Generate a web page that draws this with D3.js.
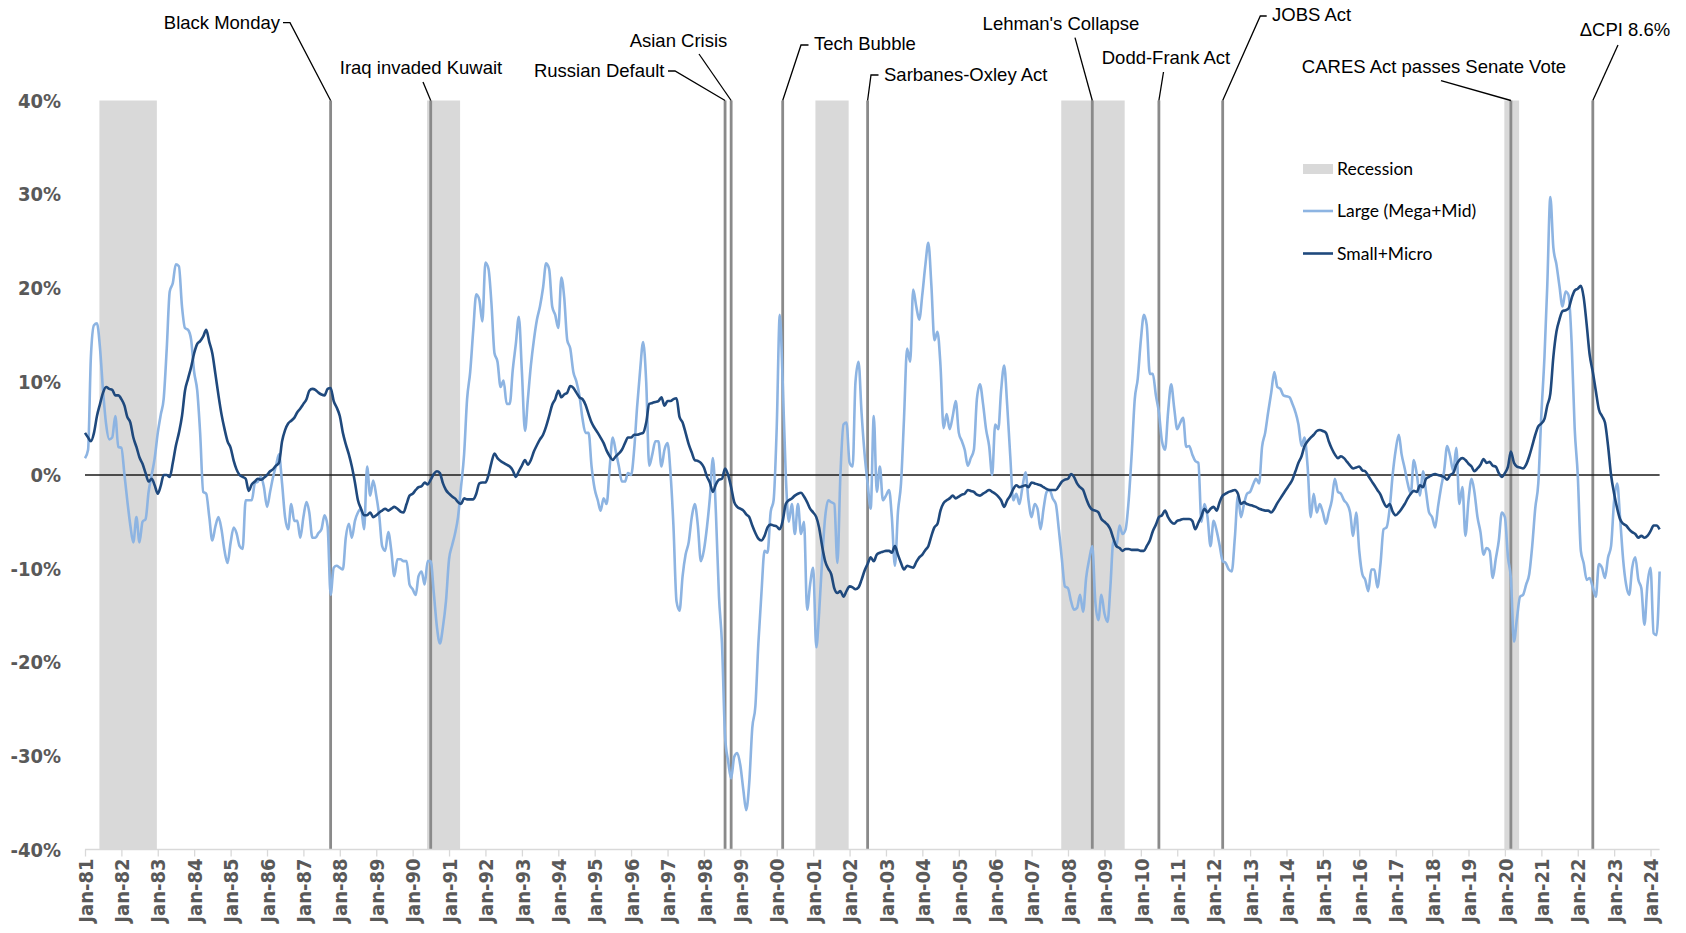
<!DOCTYPE html>
<html><head><meta charset="utf-8">
<script src="https://cdn.jsdelivr.net/npm/d3@7"></script>
<style>
html,body{margin:0;padding:0;background:#fff;}
svg{display:block;}
</style></head><body>
<svg id="chart" width="1686" height="933"></svg>
<script>
// ---------------- DATA ----------------
const startMonth = "1981-01";   // first monthly observation
const endMonth = "2024-04";     // end of x domain
const yTicks = [-40, -30, -20, -10, 0, 10, 20, 30, 40];
const tickYears = d3.range(1981, 2025);

// Large (Mega+Mid), monthly, one row per year
const largeValues = [
  1.8, 2.7, 12.6, 16.0, 16.2, 13.5, 9.0, 5.4, 3.8, 4.0, 6.3, 3.0,
  2.9, 0.0, -2.7, -5.4, -7.2, -4.5, -7.2, -5.0, -4.7, -1.8, 0.0, 1.8,
  4.5, 6.5, 8.1, 13.5, 19.6, 20.5, 22.5, 22.3, 18.0, 15.7, 15.5, 14.5,
  11.0, 9.0, 4.5, -1.8, -2.0, -4.5, -7.0, -5.5, -4.5, -5.8, -8.1, -9.4,
  -7.2, -5.6, -6.2, -7.6, -7.9, -2.7, -2.7, -2.7, -0.9, -0.7, -0.2, -1.3,
  -3.4, -1.8, -0.3, 1.0, 2.2, -0.9, -4.5, -5.8, -3.1, -4.9, -4.9, -6.7,
  -4.5, -2.9, -4.0, -6.7, -6.7, -6.2, -5.8, -4.3, -5.5, -12.8, -9.9, -9.7,
  -9.9, -10.1, -6.7, -5.2, -6.7, -4.9, -4.0, -3.6, -5.8, 0.9, -2.2, -0.6,
  -2.2, -4.5, -7.6, -8.1, -6.1, -8.1, -10.8, -9.0, -9.0, -9.2, -9.2, -11.7,
  -12.2, -12.8, -10.8, -10.3, -11.7, -9.2, -9.2, -12.6, -16.2, -18.0, -16.2, -13.5,
  -9.0, -7.5, -6.3, -4.5, -1.3, 2.2, 8.1, 11.0, 15.5, 19.3, 18.7, 16.4,
  22.7, 22.0, 18.4, 13.0, 12.1, 9.4, 10.1, 7.6, 7.6, 11.2, 14.0, 16.9,
  11.0, 4.7, 8.0, 11.7, 14.4, 16.6, 18.0, 20.0, 22.6, 22.0, 18.0, 17.1,
  15.7, 21.1, 19.0, 14.4, 13.5, 11.0, 10.0, 8.5, 6.0, 4.5, 4.5, 0.9,
  -1.5, -2.7, -3.8, -2.5, -3.1, 0.9, 4.0, 2.5, 0.9, -0.7, -0.7, 0.2,
  0.0, 2.7, 7.2, 11.2, 14.2, 9.9, 1.0, 2.2, 3.6, 3.6, 0.9, 2.7,
  3.4, 0.0, -5.4, -13.5, -14.5, -10.8, -8.5, -7.2, -4.5, -3.1, -5.4, -9.2,
  -8.0, -5.5, -2.5, 1.8, -4.0, -13.0, -18.0, -27.9, -30.6, -32.4, -30.1, -29.7,
  -31.0, -33.7, -35.8, -32.8, -27.0, -24.7, -18.0, -12.6, -8.1, -8.3, -4.0, -2.7,
  5.0, 17.1, 10.0, 0.0, -5.0, -3.1, -6.3, -3.1, -6.3, -5.0, -14.4, -11.7,
  -9.9, -18.4, -14.8, -9.0, -4.5, -2.7, -2.9, -3.1, -9.4, 0.0, 5.4, 5.6,
  1.3, 0.9, 9.9, 12.1, 6.7, 2.2, -0.9, -3.6, 6.3, -1.8, 0.9, -2.7,
  -2.2, -1.6, -4.5, -9.7, -4.0, -0.9, 6.0, 13.5, 12.1, 19.8, 18.0, 16.6,
  19.3, 22.5, 24.8, 20.2, 14.4, 15.3, 11.7, 5.0, 6.5, 4.9, 6.3, 7.9,
  4.5, 3.6, 2.7, 1.0, 1.8, 2.7, 8.1, 9.7, 7.6, 4.9, 3.1, 0.0,
  5.4, 4.9, 9.0, 11.7, 7.5, 2.0, -2.7, -2.0, -3.1, -1.3, 0.3, -2.7,
  -4.5, -3.1, -3.6, -5.8, -3.6, -1.8, -1.6, -2.5, -3.1, -5.8, -9.0, -11.9,
  -12.1, -13.5, -14.4, -14.2, -12.8, -14.6, -11.0, -9.0, -7.6, -13.5, -15.5, -12.8,
  -14.8, -15.7, -12.0, -7.0, -7.6, -5.4, -6.3, -5.8, -2.7, 2.2, 8.1, 10.3,
  14.4, 17.1, 16.0, 10.8, 10.8, 8.5, 6.7, 3.6, 2.7, 6.7, 9.7, 7.2,
  4.9, 5.6, 6.1, 3.0, 3.1, 2.2, 1.5, 1.3, -5.0, -3.1, -4.5, -7.6,
  -4.9, -6.0, -7.5, -9.2, -9.4, -10.1, -10.3, -6.7, -2.2, -4.5, -3.1, -2.0,
  -1.8, -1.0, -0.4, -0.9, 3.0, 4.5, 6.7, 8.8, 11.0, 9.4, 9.2, 8.5,
  8.4, 8.3, 7.6, 6.7, 5.4, 3.1, 4.0, 0.9, -4.5, -2.0, -4.0, -3.1,
  -4.0, -5.2, -4.0, -2.7, -0.4, -1.8, -2.0, -2.7, -3.1, -4.0, -6.5, -4.0,
  -8.1, -10.6, -11.2, -12.4, -10.1, -10.1, -12.0, -9.5, -5.8, -5.6, -3.6, 0.0,
  2.7, 4.3, 2.2, 0.7, -0.9, -2.0, 1.6, 0.0, -2.2, 0.4, -1.8, -4.0,
  -4.5, -5.6, -3.4, -1.3, 0.4, 3.1, 2.0, 0.4, 2.9, -3.1, -1.3, -6.5,
  -2.7, -0.4, -1.8, -4.5, -6.1, -8.5, -7.8, -8.1, -11.0, -9.0, -7.0, -4.0,
  -4.5, -8.8, -11.0, -17.8, -15.3, -13.0, -12.8, -11.7, -10.6, -7.6, -3.5, -0.9,
  6.5, 12.6, 20.2, 29.7, 24.3, 22.5, 20.2, 18.0, 19.6, 19.2, 14.0, 5.0,
  0.0, -8.1, -9.4, -11.2, -11.0, -12.0, -13.0, -9.5, -9.9, -11.0, -8.8, -7.6,
  -2.7, -0.9, -4.5, -9.0, -11.7, -12.8, -9.9, -8.8, -11.2, -12.1, -16.0, -11.7,
  -9.9, -16.9, -17.1, -10.3
];

// Small+Micro, monthly, one row per year
const smallValues = [
  4.5, 4.0, 3.6, 4.5, 6.3, 7.6, 8.8, 9.4, 9.2, 9.1, 8.5, 8.5,
  8.1, 7.4, 6.2, 5.6, 4.0, 3.0, 1.9, 1.2, 0.2, -0.7, -0.4, -1.1,
  -2.0, -1.1, 0.0, 0.0, -0.2, 1.3, 3.1, 4.5, 6.3, 9.0, 10.3, 11.5,
  13.0, 14.0, 14.3, 14.8, 15.5, 14.2, 13.0, 10.8, 8.5, 6.5, 4.9, 3.6,
  2.9, 1.5, 0.6, 0.0, -0.2, -0.4, -1.7, -1.0, -0.7, -0.4, -0.5, -0.3,
  0.0, 0.4, 0.6, 1.0, 1.3, 3.6, 4.8, 5.5, 5.8, 6.1, 6.7, 7.1,
  7.6, 8.1, 9.0, 9.2, 9.1, 8.8, 8.6, 8.5, 9.2, 9.3, 7.9, 7.2,
  6.3, 4.5, 3.3, 2.2, 0.9, -0.8, -2.7, -3.6, -4.3, -4.3, -4.0, -4.5,
  -4.3, -4.0, -3.8, -3.6, -3.8, -3.6, -3.4, -3.6, -3.9, -4.0, -3.1, -2.2,
  -2.0, -1.6, -1.3, -1.2, -0.8, -1.0, -0.5, 0.1, 0.4, 0.2, -0.9, -1.6,
  -2.0, -2.3, -2.5, -2.9, -3.1, -2.5, -2.6, -2.6, -2.6, -2.0, -0.9, -0.8,
  -0.8, 0.0, 1.3, 2.3, 1.8, 1.5, 1.3, 1.1, 0.9, 0.5, -0.2, 0.4,
  1.0, 1.6, 1.1, 1.6, 2.5, 3.2, 3.8, 4.3, 5.2, 6.3, 7.5, 8.1,
  9.0, 8.3, 8.6, 8.8, 9.5, 9.3, 8.8, 8.3, 8.1, 7.5, 6.5, 5.6,
  5.0, 4.5, 4.0, 3.4, 2.6, 2.0, 1.6, 2.0, 2.3, 2.7, 3.4, 4.0,
  4.0, 4.3, 4.3, 4.4, 4.5, 5.6, 7.6, 7.7, 7.8, 7.9, 8.3, 7.4,
  7.9, 7.9, 8.1, 8.2, 6.2, 5.6, 4.5, 3.3, 2.4, 1.6, 1.5, 1.3,
  0.8, -0.2, -0.8, -1.8, -1.0, -0.5, -0.4, 0.7, 0.0, -1.3, -2.9, -3.4,
  -3.6, -3.8, -4.2, -4.5, -5.4, -6.2, -6.8, -7.0, -6.5, -5.6, -5.3, -5.4,
  -5.5, -5.8, -4.9, -3.1, -2.7, -2.5, -2.2, -2.0, -1.9, -2.3, -2.9, -3.6,
  -4.0, -4.5, -5.6, -7.6, -9.2, -10.0, -10.6, -12.1, -12.6, -12.4, -13.0, -12.4,
  -11.9, -12.0, -12.2, -12.0, -11.2, -10.2, -9.5, -8.8, -9.2, -8.5, -8.3, -8.2,
  -8.1, -8.1, -8.3, -7.6, -8.5, -9.4, -10.1, -9.7, -9.8, -9.9, -9.3, -8.8,
  -8.5, -8.0, -7.6, -6.5, -5.6, -5.2, -3.8, -3.0, -2.7, -2.5, -2.2, -2.5,
  -2.3, -2.1, -2.0, -1.6, -1.7, -1.8, -2.1, -2.2, -2.0, -1.8, -1.6, -1.8,
  -2.0, -2.3, -2.7, -3.4, -2.7, -2.2, -1.5, -1.1, -1.3, -1.2, -1.1, -1.3,
  -0.8, -0.9, -1.0, -1.1, -1.3, -1.5, -1.6, -1.6, -1.6, -1.2, -0.7, -0.5,
  -0.4, 0.1, -0.2, -0.9, -1.3, -1.6, -2.5, -3.3, -3.7, -3.8, -4.0, -4.7,
  -5.0, -5.3, -5.8, -6.8, -7.6, -7.8, -8.1, -7.9, -7.9, -8.0, -8.0, -8.0,
  -8.1, -8.1, -7.6, -7.0, -6.0, -5.3, -4.5, -4.3, -3.8, -4.5, -5.0, -5.2,
  -4.9, -4.8, -4.7, -4.7, -4.7, -4.9, -5.8, -5.1, -4.4, -3.6, -4.0, -3.6,
  -3.4, -3.8, -2.9, -2.2, -2.0, -1.8, -1.7, -1.6, -2.0, -3.1, -2.9, -3.1,
  -3.2, -3.3, -3.4, -3.6, -3.7, -3.8, -3.8, -4.0, -3.6, -3.0, -2.5, -2.0,
  -1.5, -1.0, -0.5, 0.4, 1.3, 2.0, 3.1, 3.6, 4.0, 4.3, 4.7, 4.8,
  4.7, 4.5, 3.6, 2.8, 2.2, 1.8, 2.0, 1.8, 1.4, 1.0, 0.7, 0.8,
  0.9, 0.5, 0.4, -0.1, -0.6, -1.1, -1.6, -2.1, -2.9, -3.4, -3.1, -3.9,
  -4.3, -4.0, -3.6, -3.1, -2.5, -2.0, -1.7, -1.8, -1.1, -1.3, -0.4, -0.2,
  0.0, 0.1, 0.0, -0.1, -0.2, -0.5, 0.0, 0.2, 1.1, 1.6, 1.8, 1.6,
  1.2, 0.9, 0.4, 0.7, 1.1, 1.7, 1.3, 1.4, 1.0, 0.9, 0.2, -0.2,
  0.2, 0.9, 2.5, 1.3, 0.9, 0.8, 0.7, 1.1, 2.0, 3.1, 4.3, 5.2,
  5.5, 6.0, 7.4, 8.7, 12.6, 15.3, 16.6, 17.5, 17.6, 17.8, 18.9, 19.7,
  19.9, 20.2, 19.0, 16.0, 12.8, 11.0, 9.0, 7.0, 6.3, 5.6, 3.1, 0.0,
  -2.0, -3.6, -4.7, -5.2, -5.4, -5.8, -6.1, -6.3, -6.7, -6.5, -6.7, -6.5,
  -6.0, -5.4, -5.4, -5.8
];

// NBER recessions (first month, last month)
const recessionStarts = ["1981-07", "1990-07", "2001-03", "2007-12", "2020-02"];
const recessionEnds   = ["1982-11", "1991-03", "2001-11", "2009-06", "2020-04"];

// Events (label, month)
const eventLabels = ["Black Monday", "Iraq invaded Kuwait", "Russian Default", "Asian Crisis",
  "Tech Bubble", "Sarbanes-Oxley Act", "Lehman's Collapse", "Dodd-Frank Act", "JOBS Act",
  "CARES Act passes Senate Vote", "ΔCPI 8.6%"];
const eventMonths = ["1987-10", "1990-07", "1998-08", "1998-10", "2000-03", "2002-07",
  "2008-09", "2010-07", "2012-04", "2020-03", "2022-06"];

const legendLabels = ["Recession", "Large (Mega+Mid)", "Small+Micro"];

// ---------------- LAYOUT / STYLE ----------------
const W = 1686, H = 933;
const plot = {left: 85, right: 1659.6, top: 100.5, bottom: 849.5};
const colors = {large: "#8DB4E2", small: "#1F497D", recession: "#D9D9D9", event: "#8a8a8a",
  tick: "#595959", axis: "#D9D9D9"};
// annotation label placement: text x, text center y, anchor, leader points
const annotLayout = [
  {tx: 280, ty: 22.6, anchor: "end", pts: [[283, 22.6], [290, 22.6]]},
  {tx: 421, ty: 67.7, anchor: "middle", pts: [[423, 82]]},
  {tx: 664.5, ty: 71, anchor: "end", pts: [[668, 71], [675, 71]]},
  {tx: 678.5, ty: 41, anchor: "middle", pts: [[699, 54]]},
  {tx: 814, ty: 44, anchor: "start", pts: [[808.5, 45], [801, 45]]},
  {tx: 884, ty: 74.2, anchor: "start", pts: [[878.5, 75], [871, 75]]},
  {tx: 1061, ty: 23.7, anchor: "middle", pts: [[1075, 37.6]]},
  {tx: 1166, ty: 58, anchor: "middle", pts: [[1163.5, 72]]},
  {tx: 1272, ty: 15, anchor: "start", pts: [[1266.7, 16], [1260.3, 16]]},
  {tx: 1434, ty: 66.7, anchor: "middle", pts: [[1441, 80.6]]},
  {tx: 1625, ty: 30, anchor: "middle", pts: [[1618, 45]]}
];

// ---------------- DRAW ----------------
const parseM = d3.timeParse("%Y-%m");
const t0 = parseM(startMonth);
const svg = d3.select("#chart");

const x = d3.scaleTime().domain([t0, parseM(endMonth)]).range([plot.left, plot.right]);
const y = d3.scaleLinear().domain([-40, 40]).range([plot.bottom, plot.top]);
const monthW = (plot.right - plot.left) / d3.timeMonth.count(t0, parseM(endMonth));

const large = largeValues.map((v, i) => ({date: d3.timeMonth.offset(t0, i), v}));
const small = smallValues.map((v, i) => ({date: d3.timeMonth.offset(t0, i), v}));

// recession bands
svg.append("g").selectAll("rect").data(d3.zip(recessionStarts, recessionEnds)).join("rect")
  .attr("x", d => x(parseM(d[0])) - 1.2 * monthW)
  .attr("width", d => x(parseM(d[1])) - x(parseM(d[0])) + 2.9 * monthW)
  .attr("y", y(40)).attr("height", y(-40) - y(40))
  .attr("fill", colors.recession);

// event lines
svg.append("g").selectAll("line").data(eventMonths).join("line")
  .attr("x1", d => x(parseM(d))).attr("x2", d => x(parseM(d)))
  .attr("y1", y(40)).attr("y2", y(-40))
  .attr("stroke", colors.event).attr("stroke-width", 2.8);

// y axis labels
svg.append("g").selectAll("text").data(yTicks).join("text")
  .attr("x", 61).attr("y", d => y(d)).attr("dy", "0.36em")
  .attr("text-anchor", "end")
  .attr("font-family", "'DejaVu Sans Condensed','DejaVu Sans',sans-serif")
  .attr("font-stretch", "condensed")
  .attr("font-weight", "bold").attr("font-size", 20).attr("fill", colors.tick)
  .text(d => d + "%");

// x axis
const xAxis = d3.axisBottom(x)
  .tickValues(tickYears.map(yr => new Date(yr, 0, 1)))
  .tickFormat(d3.timeFormat("Jan-%y"))
  .tickSize(7).tickSizeOuter(0);
const gx = svg.append("g").attr("transform", `translate(0,${plot.bottom})`).call(xAxis);
gx.select(".domain").attr("stroke", colors.axis).attr("stroke-width", 1.5)
  .attr("d", `M${plot.left},0H${plot.right}`);
gx.selectAll(".tick line").attr("stroke", colors.axis).attr("stroke-width", 1.3);
gx.selectAll(".tick text")
  .attr("transform", "rotate(-90)")
  .attr("x", -9).attr("y", 0).attr("dy", "0.36em")
  .attr("text-anchor", "end")
  .attr("font-family", "'DejaVu Sans Condensed','DejaVu Sans',sans-serif")
  .attr("font-stretch", "condensed")
  .attr("font-weight", "bold").attr("font-size", 20).attr("fill", colors.tick);

// zero line
svg.append("line").attr("x1", plot.left).attr("x2", plot.right)
  .attr("y1", y(0)).attr("y2", y(0)).attr("stroke", "#1a1a1a").attr("stroke-width", 1.4);

// series lines
const line = d3.line().x(d => x(d.date)).y(d => y(d.v)).curve(d3.curveMonotoneX);
svg.append("path").datum(large).attr("d", line).attr("fill", "none")
  .attr("stroke", colors.large).attr("stroke-width", 2.6).attr("stroke-linejoin", "round");
svg.append("path").datum(small).attr("d", line).attr("fill", "none")
  .attr("stroke", colors.small).attr("stroke-width", 2.6).attr("stroke-linejoin", "round");

// annotations
const ann = svg.append("g");
eventLabels.forEach((lab, i) => {
  const L = annotLayout[i];
  const ex = x(parseM(eventMonths[i]));
  const pts = L.pts.concat([[ex, y(40)]]);
  ann.append("path").attr("d", d3.line()(pts)).attr("fill", "none")
    .attr("stroke", "#000").attr("stroke-width", 1.3);
  ann.append("text").attr("x", L.tx).attr("y", L.ty).attr("dy", "0.35em")
    .attr("text-anchor", L.anchor)
    .attr("font-family", "'Liberation Sans', Arial, sans-serif")
    .attr("font-size", 18.5).attr("fill", "#000").text(lab);
});

// legend
const lg = svg.append("g");
const legY = [169, 211, 253.5];
lg.append("rect").attr("x", 1303).attr("y", legY[0] - 5).attr("width", 30).attr("height", 10)
  .attr("fill", colors.recession);
lg.append("line").attr("x1", 1303).attr("x2", 1333).attr("y1", legY[1]).attr("y2", legY[1])
  .attr("stroke", colors.large).attr("stroke-width", 2.6);
lg.append("line").attr("x1", 1303).attr("x2", 1333).attr("y1", legY[2]).attr("y2", legY[2])
  .attr("stroke", colors.small).attr("stroke-width", 2.6);
lg.selectAll("text").data(legendLabels).join("text")
  .attr("x", 1337).attr("y", (d, i) => legY[i]).attr("dy", "0.35em")
  .attr("font-family", "Lato, 'Liberation Sans', sans-serif")
  .attr("font-size", 17.5).attr("fill", "#000").text(d => d);
</script>
</body></html>
